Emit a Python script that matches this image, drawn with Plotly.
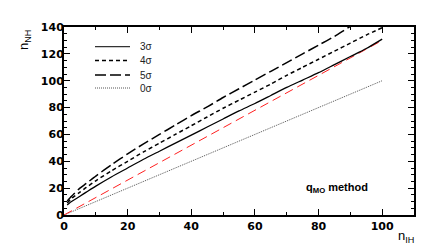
import plotly.graph_objects as go

# ---- data ----
n_ih = [1, 2, 3, 5, 7, 10, 15, 20, 25, 30, 35, 40, 45, 50, 55, 60, 65, 70, 75, 80, 85, 90, 95, 100]
nh_3sigma = [7.5, 9.5, 11, 14, 17, 21.5, 28.5, 35, 41.5, 47.5, 53.5, 59.5, 65.5, 71.5, 77.5, 83, 89, 95, 100.5, 106, 112, 118, 124, 131]
nh_4sigma = [9, 11.5, 13.5, 17, 20.5, 25.5, 33, 40, 47, 53.5, 60, 66.5, 73, 79.5, 85.5, 91.5, 97.5, 104, 110, 116, 122, 128, 134, 139.5]
nh_5sigma = [10.5, 13, 15.5, 20, 23.5, 29, 37.5, 45.5, 53, 60, 67, 74, 80.5, 87.5, 94, 100.5, 107, 113.5, 120, 126.5, 133, 140.5, 147, 153]
line0_x = [0, 100]
line0_y = [0, 100]
red_x = [0, 100]
red_y = [0, 130]

legend_labels = ["3σ", "4σ", "5σ", "0σ"]
x_ticks = [0, 20, 40, 60, 80, 100]
y_ticks = [0, 20, 40, 60, 80, 100, 120, 140]

fig = go.Figure()
fig.add_trace(go.Scatter(x=line0_x, y=line0_y, mode="lines",
                         line=dict(color="#555555", width=1, dash="1px,1px"), showlegend=False))
fig.add_trace(go.Scatter(x=red_x, y=red_y, mode="lines",
                         line=dict(color="#ff2020", width=1, dash="9px,5px"), showlegend=False))
fig.add_trace(go.Scatter(x=n_ih, y=nh_3sigma, mode="lines",
                         line=dict(color="black", width=1.3, shape="spline", smoothing=0.6),
                         showlegend=False))
fig.add_trace(go.Scatter(x=n_ih, y=nh_4sigma, mode="lines",
                         line=dict(color="black", width=1.5, dash="4px,3px", shape="spline", smoothing=0.6),
                         showlegend=False))
fig.add_trace(go.Scatter(x=n_ih, y=nh_5sigma, mode="lines",
                         line=dict(color="black", width=1.5, dash="11px,4px", shape="spline", smoothing=0.6),
                         showlegend=False))

L, R, T, B = 64, 22, 27, 37
W, H = 436, 252
pw, ph = W - L - R, H - T - B

def px(x):
    return (x - L) / pw

def py(y):
    return (H - B - y) / ph

legend_styles = [
    dict(color="#333333", width=1.2),
    dict(color="black", width=1.5, dash="4px,3px"),
    dict(color="black", width=1.5, dash="11px,4px"),
    dict(color="#555555", width=1, dash="1px,1px"),
]
legend_rows = [46.7, 60.5, 75, 88]
shapes = []
annotations = []
for lab, sty, yy in zip(legend_labels, legend_styles, legend_rows):
    shapes.append(dict(type="line", xref="paper", yref="paper",
                       x0=px(95), x1=px(130), y0=py(yy), y1=py(yy), line=sty))
    annotations.append(dict(xref="paper", yref="paper", x=px(138), y=py(yy),
                            text=lab, showarrow=False, xanchor="left", yanchor="middle",
                            font=dict(family="Liberation Sans, Arial", size=10, color="#222222")))

annotations.append(dict(xref="paper", yref="paper", x=px(337), y=py(188),
                        text="<b>q<sub>MO</sub> method</b>", showarrow=False,
                        xanchor="center", yanchor="middle",
                        font=dict(family="Liberation Sans, Arial", size=11, color="black")))
annotations.append(dict(xref="paper", yref="paper", x=px(406), y=py(236),
                        text="n<sub>IH</sub>", showarrow=False,
                        xanchor="center", yanchor="middle",
                        font=dict(family="Liberation Sans, Arial", size=13, color="black")))
annotations.append(dict(xref="paper", yref="paper", x=px(24), y=py(40),
                        text="n<sub>NH</sub>", showarrow=False, textangle=-90,
                        xanchor="center", yanchor="middle",
                        font=dict(family="Liberation Sans, Arial", size=13, color="black")))

axis_common = dict(showgrid=False, zeroline=False, showline=True, linecolor="black",
                   linewidth=2, mirror="ticks", ticks="inside", ticklen=6, tickwidth=1,
                   tickcolor="black",
                   tickfont=dict(family="DejaVu Sans", size=11, color="black"))

fig.update_layout(
    width=W, height=H,
    margin=dict(l=L, r=R, t=T, b=B),
    paper_bgcolor="white", plot_bgcolor="white",
    shapes=shapes, annotations=annotations,
    xaxis=dict(range=[0, 110], tickvals=x_ticks, ticktext=["<b>%d</b>" % v for v in x_ticks],
               minor=dict(dtick=10, ticks="inside", ticklen=3, tickcolor="black"),
               **axis_common),
    yaxis=dict(range=[0, 140], tickvals=y_ticks, ticktext=["<b>%d</b>" % v for v in y_ticks],
               minor=dict(dtick=5, ticks="inside", ticklen=3, tickcolor="black"),
               ticklabelstandoff=-4,
               **axis_common),
)

fig.write_html("out.html", config={"displayModeBar": False},
               post_script="document.body.style.margin='0';document.body.style.overflow='hidden';")
